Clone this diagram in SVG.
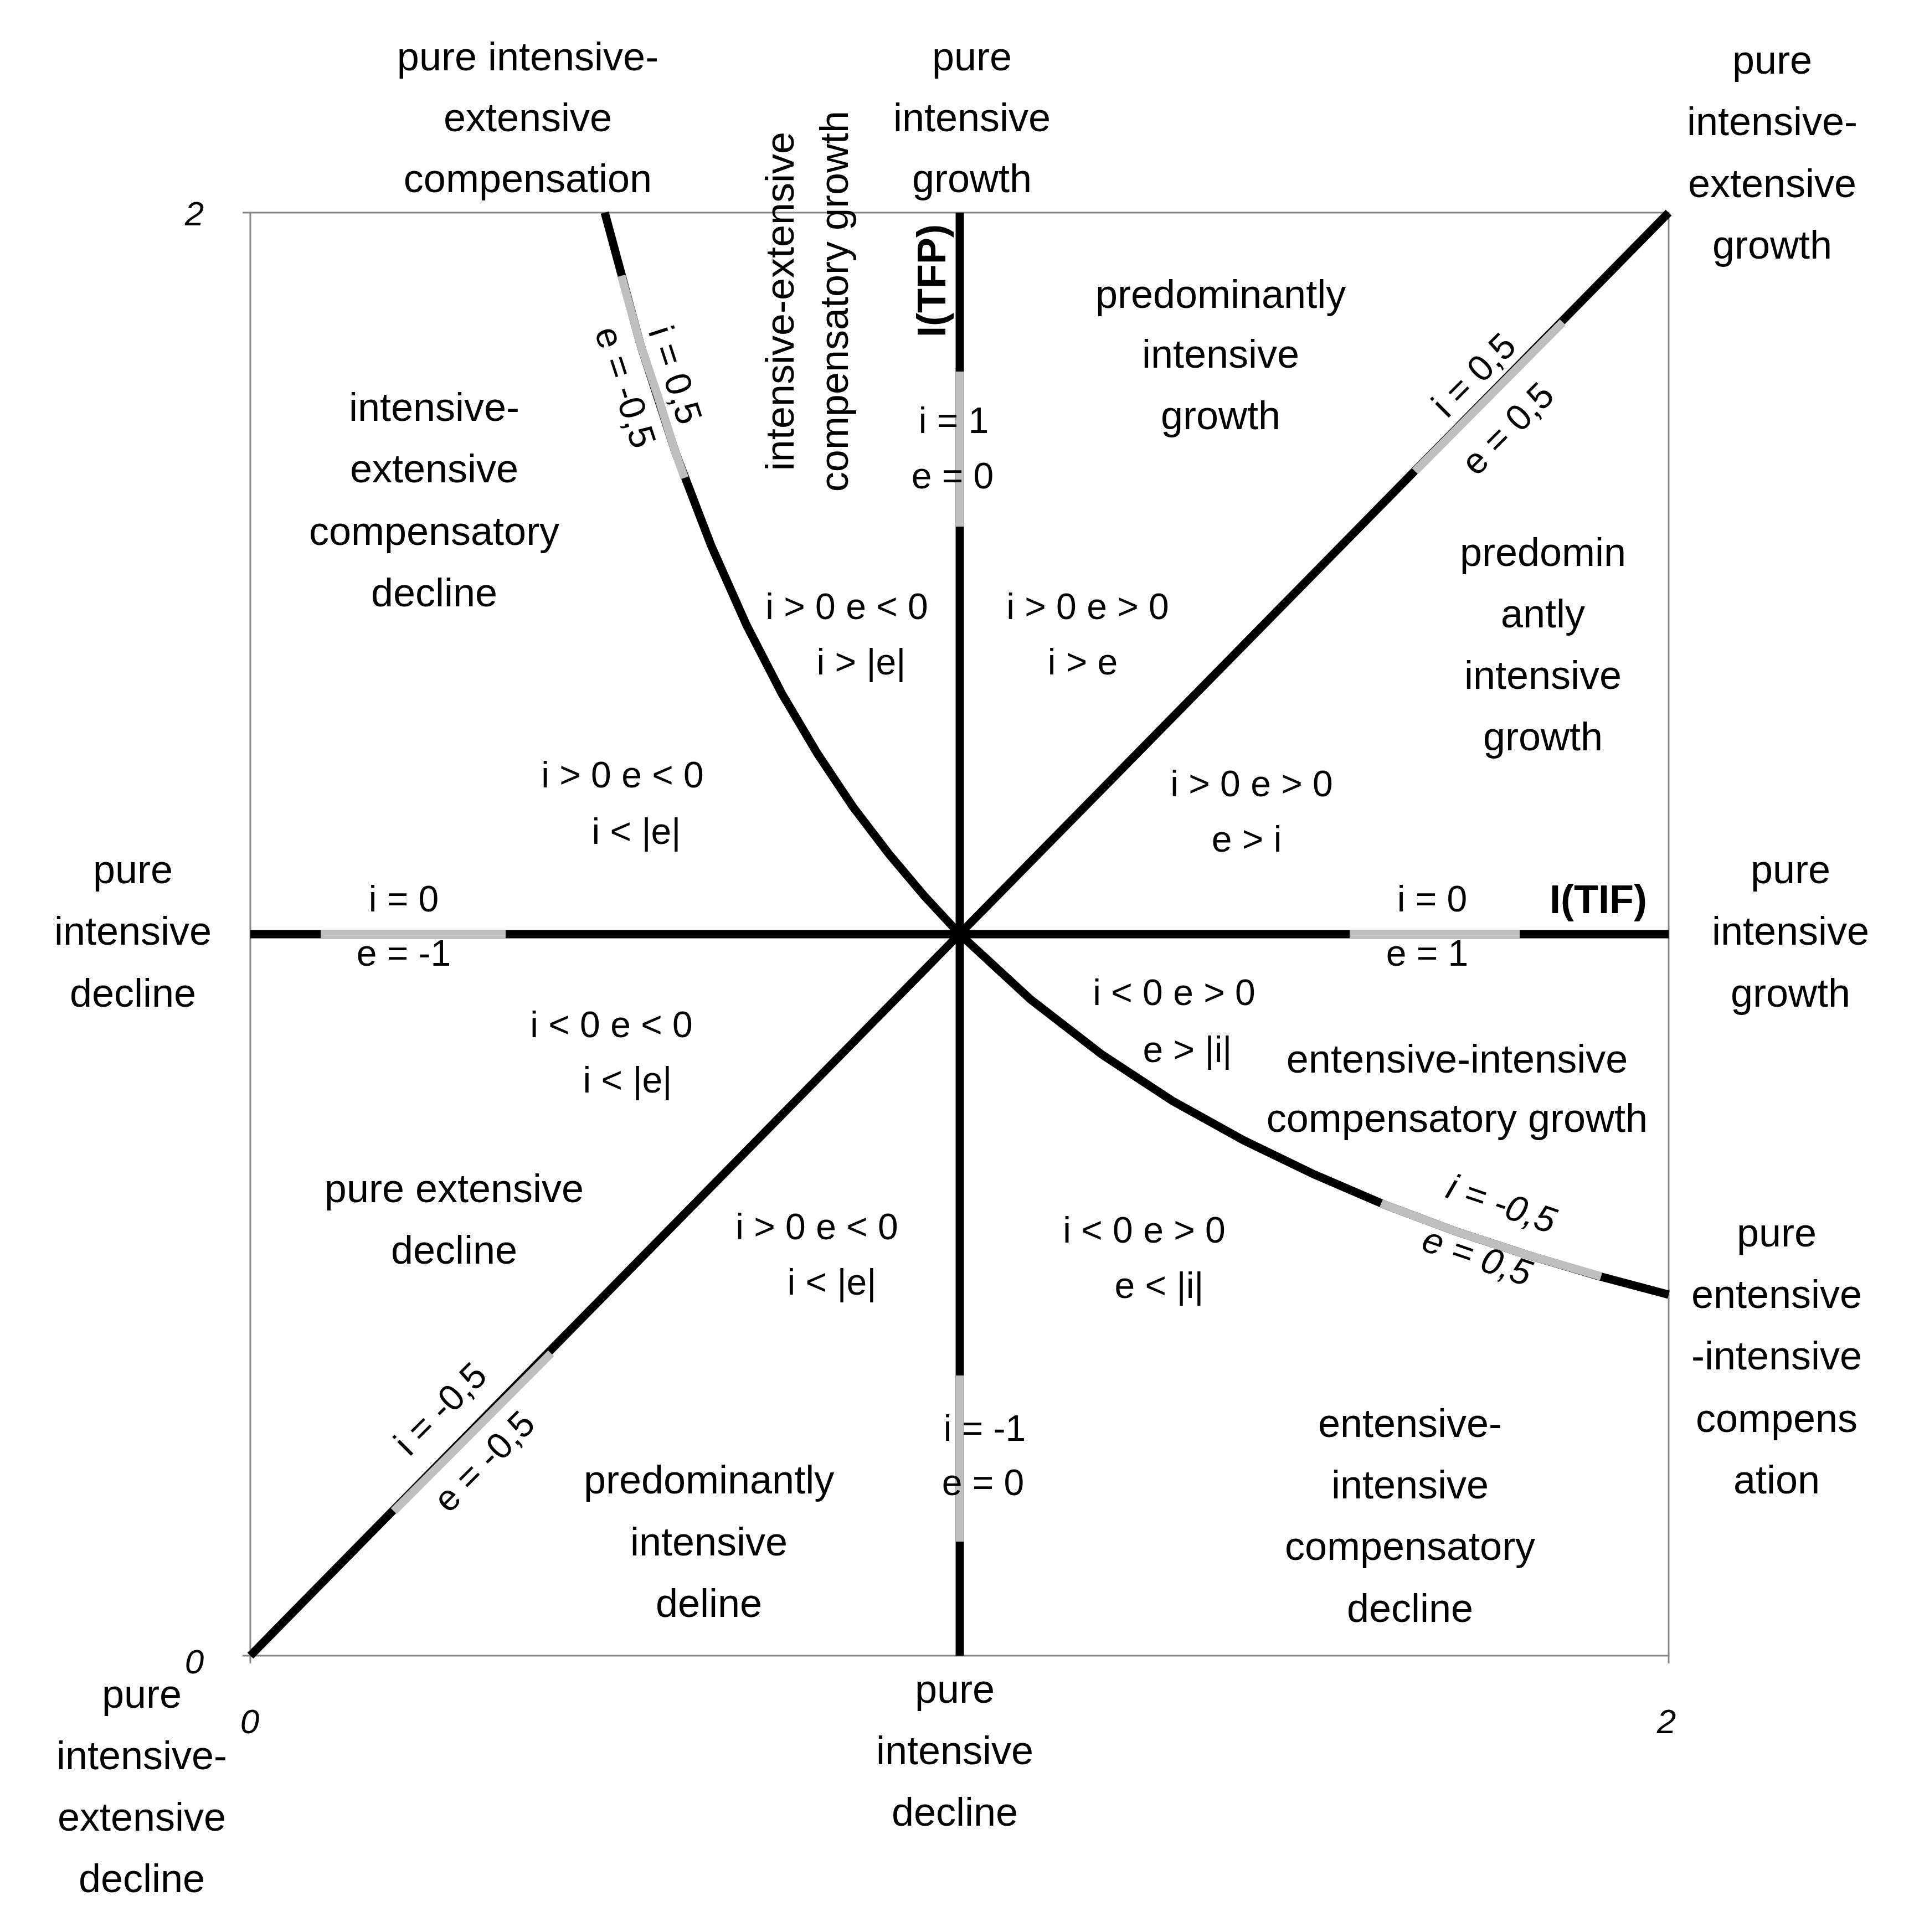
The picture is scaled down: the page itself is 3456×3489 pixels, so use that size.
<svg xmlns="http://www.w3.org/2000/svg" width="3456" height="3489" viewBox="0 0 3456 3489">
<style>
text{font-family:"Liberation Sans",Arial,sans-serif;fill:#000;text-anchor:middle}
.t{font-size:72px}
.f{font-size:66px}
.b{font-size:72px;font-weight:bold}
.n{font-size:62px;font-style:italic}
.bk{stroke:#000;stroke-width:15;fill:none}
.gr{stroke:#bfbfbf;stroke-width:15;fill:none}
.ax{stroke:#888;stroke-width:3;fill:none}
</style>
<rect width="3456" height="3489" fill="#fff"/>
<g id="axes">
<rect class="ax" x="452" y="384" width="2561" height="2606"/>
<path class="ax" d="M438 384H452M438 2990H452M452 2990V3004M3013 2990V3004"/>
<text class="n" x="351" y="407">2</text>
<text class="n" x="351" y="3022">0</text>
<text class="n" x="451" y="3130">0</text>
<text class="n" x="3009" y="3130">2</text>
</g>
<g id="connectors">
<path class="bk" d="M452 1687H3013"/>
<path class="bk" d="M1733 384V2990"/>
<path class="bk" d="M452 2990L3013 384"/>
<path class="bk" d="M1092 384L1156 621L1220 818L1284 985L1348 1129L1412 1253L1476 1361L1540 1457L1605 1542L1669 1618L1733 1687L1861 1805L1989 1904L2117 1988L2245 2059L2373 2121L2501 2176L2629 2224L2757 2266L2885 2304L3013 2338"/>
<path class="gr" d="M579 1687H913M2437 1687H2744"/>
<path class="gr" d="M1733 671V951M1733 2484V2784"/>
<path class="gr" d="M2555 851L2822 582M711 2729L995 2444"/>
<path class="gr" d="M1122 498L1156 621L1188 716L1220 818L1236 863"/>
<path class="gr" d="M2494 2173L2501 2176L2629 2224L2757 2266L2891 2305"/>
</g>
<g id="labels-top">
<text class="t" x="953" y="127">pure intensive-</text>
<text class="t" x="953" y="237">extensive</text>
<text class="t" x="953" y="347">compensation</text>
<text class="t" x="1755" y="127">pure</text>
<text class="t" x="1755" y="237">intensive</text>
<text class="t" x="1755" y="347">growth</text>
<text class="t" x="3200" y="133">pure</text>
<text class="t" x="3200" y="244">intensive-</text>
<text class="t" x="3200" y="356">extensive</text>
<text class="t" x="3200" y="467">growth</text>
<text class="t" transform="translate(1433 544) rotate(-90)">intensive-extensive</text>
<text class="t" transform="translate(1531 544) rotate(-90)">compensatory growth</text>
<text class="b" transform="translate(1707 507) rotate(-90)">I(TFP)</text>
</g>
<g id="labels-values">
<text class="f" x="1722" y="782">i = 1</text>
<text class="f" x="1720" y="882">e = 0</text>
<text class="f" x="729" y="1646">i = 0</text>
<text class="f" x="729" y="1744">e = -1</text>
<text class="f" x="2586" y="1646">i = 0</text>
<text class="f" x="2577" y="1744">e = 1</text>
<text class="b" x="2886" y="1649">I(TIF)</text>
<text class="f" x="1778" y="2602">i = -1</text>
<text class="f" x="1775" y="2700">e = 0</text>
<text class="f" transform="translate(2677 693) rotate(-45)">i = 0,5</text>
<text class="f" transform="translate(2738 790) rotate(-45)">e = 0,5</text>
<text class="f" transform="translate(811 2560) rotate(-45)">i = -0,5</text>
<text class="f" transform="translate(890 2655) rotate(-45)">e = -0,5</text>
<text class="f" transform="translate(1198 684) rotate(72)">i = 0,5</text>
<text class="f" transform="translate(1108 706) rotate(72)">e = -0,5</text>
<text class="f" font-style="italic" transform="translate(2704 2195) rotate(19)">i = -0,5</text>
<text class="f" font-style="italic" transform="translate(2660 2290) rotate(19)">e =  0,5</text>
</g>
<g id="labels-regions">
<text class="t" x="2204" y="556">predominantly</text>
<text class="t" x="2204" y="664">intensive</text>
<text class="t" x="2204" y="775">growth</text>
<text class="t" x="784" y="760">intensive-</text>
<text class="t" x="784" y="871">extensive</text>
<text class="t" x="784" y="984">compensatory</text>
<text class="t" x="784" y="1095">decline</text>
<text class="t" x="2786" y="1022">predomin</text>
<text class="t" x="2786" y="1133">antly</text>
<text class="t" x="2786" y="1244">intensive</text>
<text class="t" x="2786" y="1355">growth</text>
<text class="t" x="240" y="1595">pure</text>
<text class="t" x="240" y="1706">intensive</text>
<text class="t" x="240" y="1818">decline</text>
<text class="t" x="3233" y="1595">pure</text>
<text class="t" x="3233" y="1706">intensive</text>
<text class="t" x="3233" y="1818">growth</text>
<text class="t" x="2631" y="1937">entensive-intensive</text>
<text class="t" x="2631" y="2044">compensatory growth</text>
<text class="t" x="820" y="2171">pure extensive</text>
<text class="t" x="820" y="2282">decline</text>
<text class="t" x="3208" y="2251">pure</text>
<text class="t" x="3208" y="2362">entensive</text>
<text class="t" x="3208" y="2473">-intensive</text>
<text class="t" x="3208" y="2586">compens</text>
<text class="t" x="3208" y="2697">ation</text>
<text class="t" x="1280" y="2697">predominantly</text>
<text class="t" x="1280" y="2809">intensive</text>
<text class="t" x="1280" y="2920">deline</text>
<text class="t" x="2546" y="2595">entensive-</text>
<text class="t" x="2546" y="2706">intensive</text>
<text class="t" x="2546" y="2817">compensatory</text>
<text class="t" x="2546" y="2929">decline</text>
<text class="t" x="1724" y="3075">pure</text>
<text class="t" x="1724" y="3186">intensive</text>
<text class="t" x="1724" y="3297">decline</text>
<text class="t" x="256" y="3084">pure</text>
<text class="t" x="256" y="3195">intensive-</text>
<text class="t" x="256" y="3306">extensive</text>
<text class="t" x="256" y="3417">decline</text>
</g>
<g id="labels-conditions">
<text class="f" x="1529" y="1118">i &gt; 0  e &lt; 0</text>
<text class="f" x="1555" y="1218">i &gt; |e|</text>
<text class="f" x="1964" y="1118">i &gt; 0  e &gt; 0</text>
<text class="f" x="1955" y="1218">i &gt; e</text>
<text class="f" x="1124" y="1422">i &gt; 0  e &lt; 0</text>
<text class="f" x="1149" y="1524">i &lt; |e|</text>
<text class="f" x="2260" y="1438">i &gt; 0  e &gt; 0</text>
<text class="f" x="2251" y="1538">e &gt; i</text>
<text class="f" x="2120" y="1815">i &lt; 0  e &gt; 0</text>
<text class="f" x="2144" y="1918">e &gt; |i|</text>
<text class="f" x="1104" y="1873">i &lt; 0  e &lt; 0</text>
<text class="f" x="1133" y="1973">i &lt; |e|</text>
<text class="f" x="1475" y="2238">i &gt; 0  e &lt; 0</text>
<text class="f" x="1502" y="2338">i &lt; |e|</text>
<text class="f" x="2066" y="2244">i &lt; 0  e &gt; 0</text>
<text class="f" x="2093" y="2344">e &lt; |i|</text>
</g>
</svg>
